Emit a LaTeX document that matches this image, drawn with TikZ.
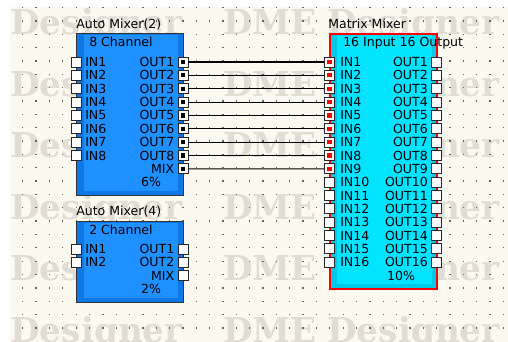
\documentclass[tikz,border=0pt]{standalone}
\usepackage{fontspec}
\setmainfont{DejaVu Sans}
\newfontfamily\wmfont{DejaVu Serif}
\usetikzlibrary{positioning,calc}
\definecolor{paper}{RGB}{252,249,240}
\definecolor{wmark}{RGB}{225,221,212}
\definecolor{griddot}{RGB}{100,100,100}
\definecolor{amblue}{RGB}{30,144,255}
\definecolor{amedge}{RGB}{14,120,230}
\definecolor{mmcyan}{RGB}{0,228,255}
\definecolor{mmedge}{RGB}{0,202,232}
\definecolor{mmred}{RGB}{255,0,0}
\tikzset{
  wm/.style={anchor=base west, inner sep=0, text=wmark,
             font=\wmfont\bfseries\fontsize{25.7}{26}\selectfont},
  amblock/.style={rectangle, anchor=north west, fill=amedge, inner sep=0,
                  minimum width={107*0.75pt}},
  mmblock/.style={rectangle, anchor=north west, fill=mmedge, inner sep=0,
                  minimum width={107*0.75pt}, minimum height={254*0.75pt}},
  port/.style={rectangle, draw=black!85, fill=white, line width=0.6pt,
               minimum size=7.5pt, inner sep=0},
  tied/.style={port, path picture={\fill[#1]
               ([shift={(-1.6pt,-1.6pt)}]path picture bounding box.center) rectangle
               ([shift={(1.6pt,1.6pt)}]path picture bounding box.center);}},
  lbl/.style={inner sep=0, text=black, font=\fontsize{9.4}{11}\selectfont},
  wire/.style={draw=black, line width=0.8pt},
}

\begin{document}
\begin{tikzpicture}[x=0.75pt, y=-0.75pt]
  \useasboundingbox (0,0) rectangle (508,342);
  \fill[white] (0,0) rectangle (508,342);
  \fill[paper] (10,7) rectangle (508,342);

  % watermark
  \begin{scope}
    \clip (10,7) rectangle (508,342);
    \foreach \r in {0,...,5} {
      \pgfmathsetmacro\wy{35+61.5*\r}
      \node[wm] (wma\r) at (10,\wy) {Designer};
      \node[wm] (wmb\r) at (223,\wy) {DME};
      \node[wm] (wmc\r) at (327,\wy) {Designer};
    }
  \end{scope}

  % grid
  \foreach \i in {0,...,36}
    \foreach \j in {0,...,24}
      \fill[griddot] ({22.1+13.35*\i},{6.9+13.35*\j}) rectangle ++(1.3,1.3);

  % Auto Mixer(2)
  \node[lbl, anchor=base west] (am2title) at (76,28.3) {Auto Mixer(2)};
  \node[amblock, minimum height={161*0.75pt}] (am2) at (76,34) {};
  \fill[amblue] ($(am2.north west)+(8,0.6)$) rectangle ($(am2.south east)+(-6,-5)$);
  \draw[black!80, line width=0.75pt] (am2.north west) rectangle (am2.south east);
  \node[lbl, anchor=base west] (am2sub) at (89,46.7) {8 Channel};
  \foreach \i in {1,...,8} {
    \pgfmathsetmacro\ry{62+13.35*(\i-1)}
    \node[port] (am2in\i) at (76,\ry) {};
    \node[tied=black] (am2out\i) at (183,\ry) {};
    \node[lbl, anchor=base west] (am2inl\i) at (85,{\ry+4.6}) {IN\i};
    \node[lbl, anchor=base east] (am2outl\i) at (174.5,{\ry+4.6}) {OUT\i};
  }
  \node[tied=black] (am2mix) at (183,168.8) {};
  \node[lbl, anchor=base east] (am2mixl) at (174.5,173.4) {MIX};
  \node[lbl, anchor=base] (am2load) at (151,186.7) {6\%};

  % Auto Mixer(4)
  \node[lbl, anchor=base west] (am4title) at (76,216) {Auto Mixer(4)};
  \node[amblock, minimum height={80*0.75pt}] (am4) at (76,222) {};
  \fill[amblue] ($(am4.north west)+(8,0.6)$) rectangle ($(am4.south east)+(-6,-5)$);
  \draw[black!80, line width=0.75pt] (am4.north west) rectangle (am4.south east);
  \node[lbl, anchor=base west] (am4sub) at (89,234.6) {2 Channel};
  \foreach \i in {1,2} {
    \pgfmathsetmacro\ry{249+13.35*(\i-1)}
    \node[port] (am4in\i) at (76,\ry) {};
    \node[port] (am4out\i) at (183,\ry) {};
    \node[lbl, anchor=base west] (am4inl\i) at (85,{\ry+4.6}) {IN\i};
    \node[lbl, anchor=base east] (am4outl\i) at (174.5,{\ry+4.6}) {OUT\i};
  }
  \node[port] (am4mix) at (183,275.7) {};
  \node[lbl, anchor=base east] (am4mixl) at (174.5,280.3) {MIX};
  \node[lbl, anchor=base] (am4load) at (151,293.6) {2\%};

  % Matrix Mixer
  \node[lbl, anchor=base west] (mmtitle) at (328,28.3) {Matrix Mixer};
  \node[mmblock] (mm) at (329.5,34) {};
  \fill[mmcyan] ($(mm.north west)+(7,1)$) rectangle ($(mm.south east)+(-5,-5)$);
  \draw[mmred, line width=1.5pt] (mm.north west) rectangle (mm.south east);
  \node[lbl, anchor=base west] (mmsub) at (343,46.7) {16 Input 16 Output};
  \foreach \i in {1,...,16} {
    \pgfmathsetmacro\ry{62+13.35*(\i-1)}
    \node[port] (mmout\i) at (436.5,\ry) {};
    \node[lbl, anchor=base west] (mminl\i) at (340,{\ry+4.6}) {IN\i};
    \node[lbl, anchor=base east] (mmoutl\i) at (428,{\ry+4.6}) {OUT\i};
  }
  \foreach \i in {1,...,9}
    \node[tied=mmred] (mmin\i) at (329.5,{62+13.35*(\i-1)}) {};
  \foreach \i in {10,...,16}
    \node[port] (mmin\i) at (329.5,{62+13.35*(\i-1)}) {};
  \node[lbl, anchor=base] (mmload) at (401,280.2) {10\%};

  % connections
  \foreach \i in {1,...,8}
    \draw[wire] (am2out\i) -- (mmin\i);
  \draw[wire] (am2mix) -- (mmin9);
\end{tikzpicture}
\end{document}
